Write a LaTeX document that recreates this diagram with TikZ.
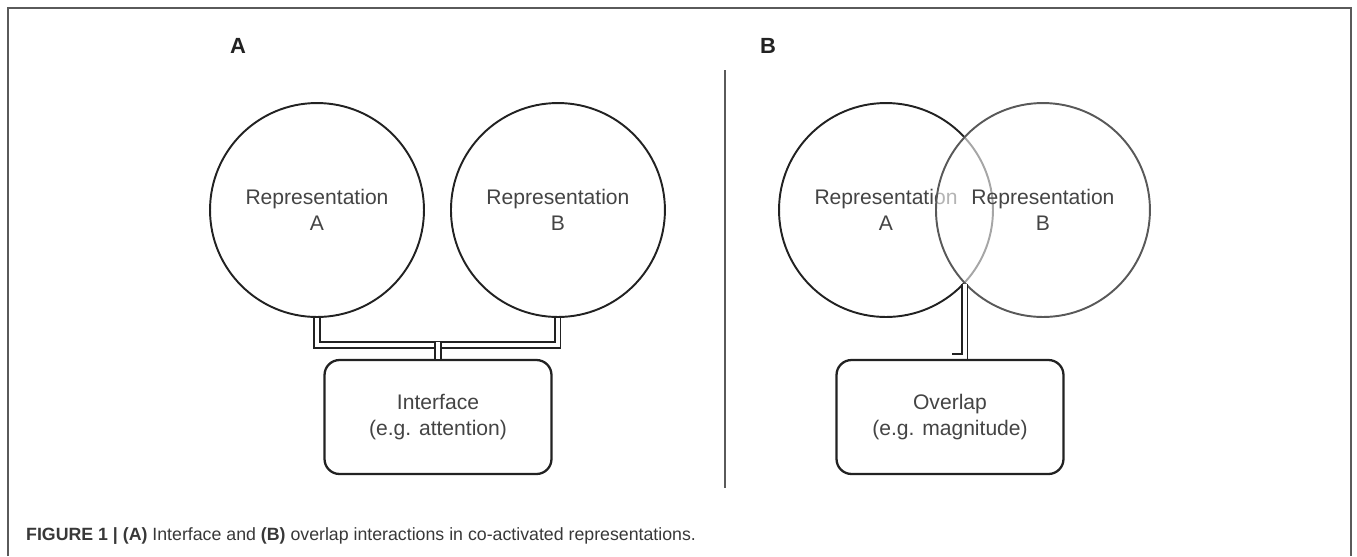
\documentclass[tikz,border=0pt]{standalone}
\usepackage{fontspec}
\setmainfont{Liberation Sans}
\usepackage{tikz}
\usetikzlibrary{positioning}
\definecolor{ink}{HTML}{222222}
\definecolor{txt}{HTML}{444444}
\definecolor{rule}{HTML}{5A5A5A}

\begin{document}
\begin{tikzpicture}[x=0.02cm, y=-0.02cm,
	rep/.style={circle, draw=ink, line width=1.1pt, inner sep=0pt, minimum size=4.28cm, align=center, text=txt, font=\fontsize{12}{14.5}\selectfont},
	box/.style={rectangle, rounded corners=0.3cm, draw=ink, line width=1.3pt, fill=white, minimum width=4.54cm, minimum height=2.28cm, align=center, text=txt, font=\fontsize{12}{14.5}\selectfont},
	link/.style={draw=ink, line width=1.1pt, double=white, double distance=1.8pt},
	panel/.style={font=\fontsize{12.5}{15}\selectfont\bfseries, text=ink},
	node distance=4.82cm, on grid]
		\useasboundingbox (0,0) rectangle (1357,556);
		% frame and divider
		\draw[rule, line width=1.1pt] (8,556) -- (8,8) -- (1351,8) -- (1351,556);
		\draw[rule, line width=1.2pt] (725,70) -- (725,488);
		\node[panel] (labA) at (238,46) {A};
		\node[panel] (labB) at (768,46) {B};

		% panel A: interface
		\node[rep] (repA) at (317,210) {Representation\\A};
		\node[rep] (repB) [right=of repA] {Representation\\B};
		\coordinate (mid) at (438,345);
		\draw[link] (repA.south) |- (mid) -| (repB.south);
		\node[box] (ifc) at (438,417) {Interface\\(e.g. attention)};
		\draw[link] (mid) ++(0,-3) -- (ifc.north);

		% panel B: overlap
		\node[rep] (ovA) at (886,210) {Representation\\A};
		\node[rep, draw=ink!75, fill=white, fill opacity=0.6, text opacity=1] (ovB) [right=3.14cm of ovA] {Representation\\B};
		\coordinate (hook) at (952,357);
		\draw[link] (ovA.-43) -- (ovA.-43 |- hook) -- (hook);
		\node[box] (ovl) at (950,417) {Overlap\\(e.g. magnitude)};

		\node[anchor=west, text=ink!90, font=\fontsize{10.1}{12}\selectfont] (cap) at (20,536) {\textbf{FIGURE 1 | (A)} Interface and \textbf{(B)} overlap interactions in co-activated representations.};
	\end{tikzpicture}
\end{document}
